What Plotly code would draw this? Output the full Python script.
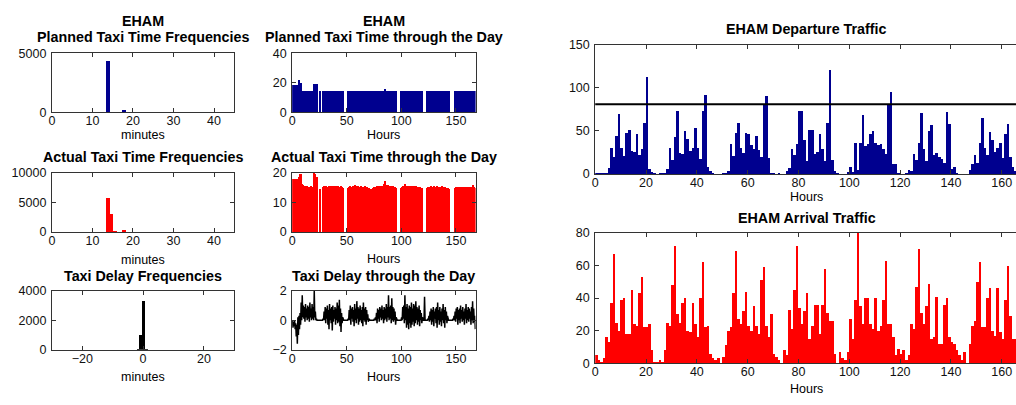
import numpy as np
import plotly.graph_objects as go

# ---------------- data ----------------
# histogram of planned taxi time (minutes)
planned_bins = [13.8, 17.8]
planned_counts = [4350, 90]
# histogram of actual taxi time (minutes)
actual_bins = [13.8, 14.7, 15.6, 17.8]
actual_counts = [5800, 3100, 60, 200]
# histogram of taxi delay (minutes)
delay_bins = [-1.7, -0.8, 0.1, 1.0]
delay_counts = [30, 1000, 3300, 60]

# hourly planned taxi time (minutes), hours 0..167
planned_taxi = [
    18.5, 18.5, 18.5, 0, 18.5, 18.5, 22, 19.5, 19.5, 14.5, 14.5, 14.5, 14.5, 14.5, 14.5, 14.5, 14.5, 14.5, 14.5, 14.5, 19, 19, 19, 0,
    0, 14.5, 0, 0, 14.5, 14.5, 14.5, 14.5, 14.5, 14.5, 14.5, 14.5, 14.5, 14.5, 14.5, 14.5, 14.5, 14.5, 14.5, 14.5, 14.5, 14.5, 14.5, 0,
    0, 0, 0, 14.5, 14.5, 14.5, 14.5, 14.5, 14.5, 14.5, 14.5, 14.5, 14.5, 14.5, 14.5, 14.5, 14.5, 14.5, 14.5, 14.5, 14.5, 14.5, 14.5, 0,
    14.5, 0, 14.5, 14.5, 14.5, 14.5, 14.5, 14.5, 14.5, 14.5, 14.5, 14.5, 14.5, 15.5, 14.5, 14.5, 14.5, 14.5, 14.5, 14.5, 14.5, 14.5, 14.5, 14.5,
    0, 0, 0, 14.5, 14.5, 14.5, 14.5, 14.5, 14.5, 14.5, 14.5, 14.5, 14.5, 14.5, 14.5, 14.5, 14.5, 14.5, 14.5, 14.5, 14.5, 14.5, 14.5, 14.5,
    0, 0, 0, 14.5, 14.5, 14.5, 14.5, 14.5, 14.5, 14.5, 14.5, 14.5, 14.5, 14.5, 14.5, 14.5, 14.5, 14.5, 14.5, 14.5, 14.5, 14.5, 14.5, 14.5,
    0, 0, 0, 0, 0, 14.5, 14.5, 14.5, 14.5, 14.5, 14.5, 14.5, 14.5, 14.5, 14.5, 14.5, 14.5, 14.5, 14.5, 14.5, 14.5, 14.5, 14.5, 14.5,
]

# hourly actual taxi time (minutes)
actual_taxi = [
    18, 18, 0, 18, 18, 18, 18.5, 19.5, 19.5, 16.2, 15.8, 15.5, 15.3, 15.5, 15.2, 15.4, 15.2, 15.5, 15.3, 15.2, 20, 19.5, 18.5, 0,
    0, 14.6, 0, 0, 15.2, 15.5, 15.4, 15.6, 15.3, 15.5, 15.4, 15.6, 15.3, 15.5, 15.4, 15.7, 15.5, 15.3, 15.6, 15.4, 15.5, 15.2, 15.0, 0,
    0, 0, 0, 15.0, 15.3, 15.5, 15.2, 15.6, 15.4, 15.8, 15.5, 15.3, 15.6, 15.4, 15.2, 15.5, 15.3, 15.4, 15.6, 15.3, 15.2, 15.0, 14.8, 0,
    14.6, 0, 15.0, 15.2, 15.4, 15.5, 15.3, 15.6, 15.4, 15.5, 15.3, 15.6, 16.2, 17.2, 16.0, 15.8, 15.6, 15.5, 15.7, 15.4, 15.6, 15.3, 15.2, 15.0,
    0, 0, 0, 15.0, 15.4, 15.6, 15.5, 16.4, 15.7, 15.5, 15.6, 15.4, 15.5, 15.6, 15.3, 15.5, 15.4, 15.6, 15.3, 15.4, 15.2, 15.3, 15.0, 14.8,
    0, 0, 0, 14.8, 15.2, 15.4, 15.3, 15.5, 15.2, 15.4, 15.6, 15.3, 15.5, 15.2, 15.4, 15.1, 15.3, 15.5, 15.2, 15.4, 15.1, 15.0, 14.8, 14.6,
    0, 0, 0, 0, 0, 14.8, 15.2, 15.0, 15.3, 15.1, 15.4, 15.2, 15.0, 15.3, 15.1, 15.2, 15.0, 15.3, 15.1, 15.2, 15.4, 15.8, 15.3, 15.0,
]

# hourly taxi delay: upper and lower excursion within each hour (minutes)
delay_hi = [
    0.0, -0.1, 0.0, -0.2, -0.3, 0.2, 0.3, 0.5, 1.2, 1.7, 1.0, 0.9, 1.1, 0.8, 1.0, 0.9, 1.2, 0.8, 1.1, 0.9, 2.0, 0.6, 0.1, 0.0,
    0, 0, 0, 0, 0.1, 0.6, 0.9, 0.8, 1.0, 0.7, 1.1, 0.8, 0.9, 1.0, 0.7, 0.9, 0.8, 1.2, 1.0, 1.4, 0.8, 0.5, 0.2, 0,
    0, 0, 0, 0.1, 0.7, 1.0, 0.8, 0.9, 0.7, 1.1, 0.8, 1.3, 0.9, 0.8, 1.0, 0.7, 0.9, 1.2, 0.8, 0.9, 0.7, 0.4, 0.1, 0,
    0, 0, 0, 0.1, 0.2, 0.5, 0.8, 0.7, 0.9, 0.8, 1.0, 0.7, 0.9, 0.8, 1.1, 0.9, 1.7, 0.9, 1.0, 1.5, 0.9, 0.8, 0.6, 0.2,
    0, 0, 0, 0, 0.2, 0.9, 1.0, 1.7, 0.9, 1.1, 0.8, 1.0, 0.9, 1.2, 0.8, 1.1, 1.0, 1.3, 0.9, 0.8, 1.0, 0.7, 0.5, 0.2,
    0, 1.6, 0, 0, 0.1, 0.3, 0.6, 0.8, 0.7, 0.9, 0.6, 0.8, 0.9, 1.2, 0.7, 0.9, 0.6, 0.8, 1.1, 0.7, 0.9, 0.6, 0.3, 0.0,
    0, 0, 0, 0.1, 0.3, 0.6, 0.8, 0.9, 0.7, 0.8, 1.0, 0.7, 0.9, 0.6, 0.8, 1.1, 0.7, 0.9, 0.8, 0.6, 0.9, 1.3, 0.8, 0.3,
]
delay_lo = [
    -0.5, -0.4, -0.6, -1.1, -1.6, -1.0, -0.6, -0.3, 0.0, 0.2, 0.1, -0.1, 0.2, 0.0, 0.1, -0.1, 0.2, 0.0, 0.1, 0.0, 0.2, 0.0, 0.0, 0.0,
    0, 0, 0, 0, 0, 0.0, -0.2, 0.1, -0.3, -0.6, 0.0, -0.2, -0.7, -0.1, 0.1, -0.3, 0.0, -0.2, -0.1, -0.4, -0.8, -0.2, 0.0, 0,
    0, 0, 0, 0, 0.0, -0.3, 0.1, -0.1, -0.4, 0.0, -0.2, 0.1, -0.3, -0.1, 0.0, -0.2, -0.4, 0.0, -0.1, -0.3, 0.0, -0.1, 0.0, 0,
    0, 0, 0, 0, 0, -0.2, 0.1, -0.1, 0.2, 0.0, 0.1, -0.2, 0.0, 0.1, -0.1, 0.2, 0.0, 0.1, -0.2, 0.0, -0.1, 0.0, -0.3, 0.0,
    0, 0, 0, 0, 0.0, 0.1, -0.2, 0.0, -0.5, -0.3, -0.6, -0.2, -0.5, -0.3, -0.1, -0.4, -0.2, 0.0, -0.3, -0.1, -0.4, 0.0, -0.2, 0.0,
    0, 0, 0, 0, 0, -0.1, 0.0, -0.3, -0.1, -0.4, 0.1, -0.2, -0.5, 0.0, -0.3, -0.1, -0.4, 0.0, -0.2, -0.5, 0.0, -0.2, 0.0, 0,
    0, 0, 0, 0, 0.0, -0.1, 0.1, -0.3, 0.0, -0.2, 0.1, -0.1, 0.0, -0.3, 0.1, -0.2, 0.0, -0.1, 0.1, -0.3, 0.0, -0.2, -0.1, -0.6,
]

# hourly departures / arrivals, hours 0..167
departures = [
    1, 1, 1, 1, 1, 7, 30, 20, 44, 70, 31, 21, 48, 51, 27, 26, 47, 23, 29, 60, 113, 6, 3, 1,
    0, 1, 1, 1, 6, 31, 17, 43, 73, 25, 24, 50, 41, 27, 30, 54, 31, 18, 74, 92, 9, 4, 1, 0,
    0, 0, 1, 2, 4, 35, 21, 48, 59, 31, 25, 48, 47, 34, 29, 45, 28, 20, 80, 91, 19, 2, 1, 0,
    1, 0, 0, 4, 7, 29, 22, 35, 73, 73, 40, 15, 51, 51, 24, 26, 47, 29, 16, 59, 121, 17, 4, 1,
    0, 0, 0, 3, 8, 3, 36, 5, 36, 69, 33, 35, 47, 50, 36, 34, 35, 29, 24, 82, 96, 12, 12, 1,
    0, 0, 2, 5, 4, 24, 17, 36, 71, 29, 16, 50, 57, 22, 25, 20, 18, 13, 72, 58, 6, 9, 2, 0,
    0, 0, 0, 5, 12, 23, 13, 36, 65, 30, 22, 49, 40, 26, 30, 36, 19, 47, 58, 20, 9, 4, 2, 1,
]
arrivals = [
    5, 2, 1, 3, 16, 13, 37, 67, 25, 20, 39, 40, 18, 18, 45, 24, 23, 43, 53, 22, 22, 24, 8, 1,
    1, 2, 1, 8, 25, 23, 48, 72, 30, 25, 37, 40, 20, 19, 37, 24, 16, 40, 62, 22, 23, 6, 3, 2,
    3, 0, 4, 11, 20, 22, 43, 69, 27, 24, 32, 44, 23, 20, 35, 23, 18, 51, 59, 23, 16, 30, 6, 4,
    2, 0, 8, 5, 33, 21, 45, 72, 34, 24, 32, 43, 15, 23, 36, 36, 18, 36, 58, 31, 26, 26, 6, 0,
    7, 3, 2, 7, 27, 15, 39, 80, 35, 24, 40, 40, 24, 21, 40, 20, 23, 39, 63, 24, 24, 16, 5, 9,
    6, 8, 2, 5, 24, 21, 47, 70, 31, 24, 35, 49, 15, 16, 41, 12, 12, 36, 40, 16, 13, 12, 8, 5,
    2, 7, 0, 12, 23, 26, 50, 62, 22, 22, 40, 46, 20, 17, 46, 19, 15, 39, 60, 29, 15, 15, 10, 5,
]
departure_capacity = 81

# ---------------- figure ----------------
W, H = 1016, 405
NAVY = "#00008F"
RED = "#FF0000"
FONT = "Liberation Sans, Arial, sans-serif"

hours = np.arange(len(departures))
hour_centers = hours + 0.5

fig = go.Figure()

def bar(x, y, color, ax, width=None):
    fig.add_trace(go.Bar(x=x, y=y, marker=dict(color=color, line=dict(width=0)),
                         width=width, xaxis="x" + ax, yaxis="y" + ax,
                         showlegend=False, hoverinfo="skip"))

bar(planned_bins, planned_counts, NAVY, "", 0.9)
bar(hour_centers, planned_taxi, NAVY, "2", 1.0)
bar(actual_bins, actual_counts, RED, "3", 0.9)
bar(hour_centers, actual_taxi, RED, "4", 1.0)
bar(delay_bins, delay_counts, "#000000", "5", 0.9)

dx = np.column_stack([hours + 0.25, hours + 0.75]).ravel()
dy = np.column_stack([delay_hi, delay_lo]).ravel()
fig.add_trace(go.Scatter(x=dx, y=dy, mode="lines", line=dict(color="#000000", width=1.5),
                         xaxis="x6", yaxis="y6", showlegend=False, hoverinfo="skip"))

bar(hour_centers, departures, NAVY, "7", 1.0)
bar(hour_centers, arrivals, RED, "8", 1.0)

# axes boxes in pixels: left, right, top, bottom
boxes = {
    1: (49, 232, 48, 109),
    2: (290, 474, 48, 109),
    3: (49, 232, 172, 233),
    4: (290, 474, 172, 233),
    5: (49, 232, 294, 355),
    6: (290, 474, 294, 355),
    7: (594, 1016, 39, 173),
    8: (594, 1016, 234, 369),
}
xranges = {1: [0, 45], 2: [0, 168], 3: [0, 45], 4: [0, 168], 5: [-30, 30], 6: [0, 168],
           7: [0, 165.6], 8: [0, 165.6]}
yranges = {1: [0, 5000], 2: [0, 40], 3: [0, 10000], 4: [0, 20], 5: [0, 4000], 6: [-2, 2],
           7: [0, 150], 8: [0, 80]}
xticks = {1: [0, 10, 20, 30, 40], 2: [0, 50, 100, 150], 3: [0, 10, 20, 30, 40], 4: [0, 50, 100, 150],
          5: [-20, 0, 20], 6: [0, 50, 100, 150], 7: list(range(0, 170, 20)), 8: list(range(0, 170, 20))}
yticks = {1: [0, 5000], 2: [0, 20, 40], 3: [0, 5000, 10000], 4: [0, 10, 20], 5: [0, 2000, 4000],
          6: [-2, 0, 2], 7: [0, 50, 100, 150], 8: [0, 20, 40, 60, 80]}

AXC = "#333333"
tickfont = dict(family=FONT, size=12.5, color="#111111")
layout = dict(width=W, height=H, margin=dict(l=0, r=0, t=0, b=0),
              paper_bgcolor="white", plot_bgcolor="white", bargap=0, barmode="overlay",
              showlegend=False)
for i, (l, r, t, b) in boxes.items():
    s = "" if i == 1 else str(i)
    right_cut = i in (7, 8)
    layout["xaxis" + s] = dict(domain=[l / W, r / W], anchor="y" + s, range=xranges[i],
                               tickvals=xticks[i], ticks="inside", ticklen=4, tickcolor=AXC,
                               showline=True, linecolor=AXC, linewidth=1, mirror="ticks",
                               showgrid=False, zeroline=False, tickfont=tickfont,
                               tickformat="d", ticklabelstandoff=-3, fixedrange=True)
    layout["yaxis" + s] = dict(domain=[1 - b / H, 1 - t / H], anchor="x" + s, range=yranges[i],
                               tickvals=yticks[i], ticks="inside", ticklen=4, tickcolor=AXC,
                               showline=True, linecolor=AXC, linewidth=1,
                               mirror=False if right_cut else "ticks",
                               showgrid=False, zeroline=False, tickfont=tickfont,
                               tickformat="d", ticklabelstandoff=2, fixedrange=True)

fig.update_layout(**layout)

fig.add_shape(type="line", xref="x7 domain", yref="y7", x0=0, x1=1,
              y0=departure_capacity, y1=departure_capacity,
              line=dict(color="#000000", width=2))

def text(x, y, s, bold=False):
    fig.add_annotation(x=x / W, y=1 - y / H, xref="paper", yref="paper",
                       text=("<b>" + s + "</b>") if bold else s,
                       showarrow=False, xanchor="center", yanchor="middle",
                       font=dict(family=FONT, size=14.3 if bold else 12.5,
                                 color="#000000"))

# titles
text(140.5, 14, "EHAM", True)
text(140.5, 31, "Planned Taxi Time Frequencies", True)
text(382, 14, "EHAM", True)
text(382, 31, "Planned Taxi Time through the Day", True)
text(140.5, 155, "Actual Taxi Time Frequencies", True)
text(382, 155, "Actual Taxi Time through the Day", True)
text(140.5, 279, "Taxi Delay Frequencies", True)
text(382, 279, "Taxi Delay through the Day", True)
text(806, 23, "EHAM Departure Traffic", True)
text(806, 219, "EHAM Arrival Traffic", True)
# axis labels
text(140.5, 133, "minutes")
text(382, 133, "Hours")
text(140.5, 262, "minutes")
text(382, 261, "Hours")
text(140.5, 383, "minutes")
text(382, 383, "Hours")
text(806, 197, "Hours")
text(806, 396, "Hours")

fig.write_html("out.html")
